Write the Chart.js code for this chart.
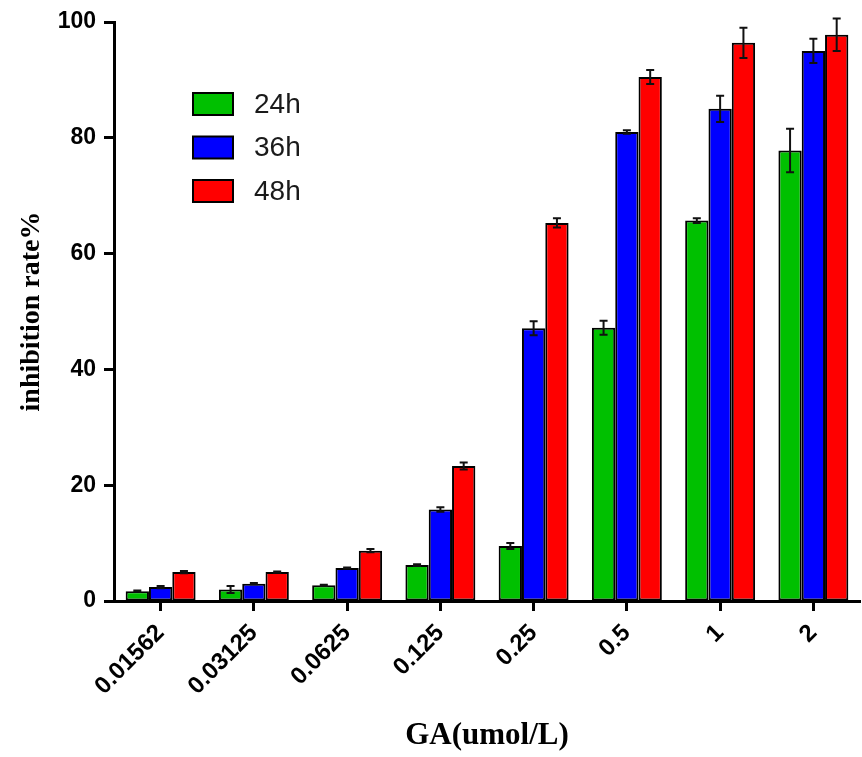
<!DOCTYPE html>
<html><head><meta charset="utf-8">
<style>html,body{margin:0;padding:0;background:#fff;}</style>
<script src="https://cdn.jsdelivr.net/npm/chart.js@4.4.1/dist/chart.umd.min.js"></script>
</head><body>
<canvas id="c" width="862" height="757" style="display:block"></canvas>
<script>
const categories = ['0.01562','0.03125','0.0625','0.125','0.25','0.5','1','2'];
const seriesNames = ['24h','36h','48h'];
const values24 = [1.7, 2.0, 2.7, 6.2, 9.5, 47.2, 65.7, 77.8];
const values36 = [2.4, 3.0, 5.7, 15.8, 47.1, 81.0, 85.0, 95.0];
const values48 = [5.0, 5.0, 8.7, 23.3, 65.3, 90.5, 96.4, 97.8];
const errors24 = [0.1, 0.6, 0.1, 0.15, 0.5, 1.2, 0.4, 3.75];
const errors36 = [0.2, 0.1, 0.1, 0.4, 1.2, 0.3, 2.25, 2.1];
const errors48 = [0.2, 0.1, 0.3, 0.6, 0.8, 1.2, 2.6, 2.8];
const yTicks = [0, 20, 40, 60, 80, 100];
const seriesColors = ['#00c000', '#0000ff', '#ff0000'];

const allValues = [values24, values36, values48];
const allErrors = [errors24, errors36, errors48];

const errorBarPlugin = {
  id: 'errorBars',
  afterDatasetsDraw(chart) {
    const ctx = chart.ctx;
    const ys = chart.scales.y;
    ctx.save();
    ctx.strokeStyle = '#111';
    ctx.lineWidth = 2;
    chart.data.datasets.forEach((ds, di) => {
      const meta = chart.getDatasetMeta(di);
      meta.data.forEach((bar, i) => {
        const v = ds.data[i], e = ds.errors[i];
        if (!e) return;
        const yT = ys.getPixelForValue(v + e);
        const yB = ys.getPixelForValue(v - e);
        const x = bar.x;
        ctx.beginPath();
        ctx.moveTo(x, yT); ctx.lineTo(x, yB);
        ctx.moveTo(x - 4, yT); ctx.lineTo(x + 4, yT);
        ctx.moveTo(x - 4, yB); ctx.lineTo(x + 4, yB);
        ctx.stroke();
      });
    });
    ctx.restore();
  }
};

const legendPlugin = {
  id: 'boxLegend',
  afterDraw(chart) {
    const ctx = chart.ctx;
    const a = chart.chartArea;
    const x0 = a.left + 79, y0 = a.top + 71;
    ctx.save();
    chart.data.datasets.forEach((ds, i) => {
      const y = y0 + i * 43.5;
      ctx.fillStyle = ds.backgroundColor;
      ctx.fillRect(x0, y, 40, 22);
      ctx.strokeStyle = '#000';
      ctx.lineWidth = 2;
      ctx.strokeRect(x0, y, 40, 22);
      ctx.fillStyle = '#1a1a1a';
      ctx.font = '28px "Liberation Sans", Arial, sans-serif';
      ctx.textBaseline = 'middle';
      ctx.textAlign = 'left';
      ctx.fillText(ds.label, x0 + 61, y + 12);
    });
    ctx.restore();
  }
};

const datasets = seriesNames.map((name, i) => ({
  label: name,
  data: allValues[i],
  errors: allErrors[i],
  backgroundColor: seriesColors[i],
  borderColor: '#000',
  borderWidth: 2,
  borderSkipped: false
}));

new Chart(document.getElementById('c'), {
  type: 'bar',
  data: { labels: categories, datasets },
  plugins: [errorBarPlugin, legendPlugin],
  options: {
    responsive: false,
    animation: false,
    devicePixelRatio: 1,
    layout: { padding: { top: 22, right: 2, left: 0, bottom: 0 } },
    datasets: { bar: { barPercentage: 1.0, categoryPercentage: 0.75 } },
    plugins: { legend: { display: false }, tooltip: { enabled: false } },
    scales: {
      x: {
        type: 'category',
        offset: true,
        grid: { display: true, offset: false, drawOnChartArea: false, drawTicks: true, tickLength: 10, tickWidth: 3, color: '#000' },
        border: { display: true, color: '#000', width: 3 },
        ticks: { autoSkip: false, minRotation: 45, maxRotation: 45, padding: 8, color: '#000',
                 font: { family: '"Liberation Sans", Arial, sans-serif', weight: 'bold', size: 24 } },
        title: { display: true, text: 'GA(umol/L)', color: '#000',
                 font: { family: '"Liberation Serif", "Times New Roman", serif', weight: 'bold', size: 31 },
                 padding: { top: 0, bottom: 2 } },
        afterFit: s => { s.height = 156; }
      },
      y: {
        min: 0, max: 100,
        afterBuildTicks: s => { s.ticks = yTicks.map(v => ({ value: v })); },
        grid: { display: true, drawOnChartArea: false, drawTicks: true, tickLength: 10, tickWidth: 3, color: '#000' },
        border: { display: true, color: '#000', width: 3 },
        ticks: { padding: 8, color: '#000',
                 font: { family: '"Liberation Sans", Arial, sans-serif', weight: 'bold', size: 23 } },
        title: { display: true, text: 'inhibition rate%', color: '#000',
                 font: { family: '"Liberation Serif", "Times New Roman", serif', weight: 'bold', size: 28 },
                 padding: { top: 15, bottom: 0 } },
        afterFit: s => { s.width = 114; }
      }
    }
  }
});
</script>
</body></html>
